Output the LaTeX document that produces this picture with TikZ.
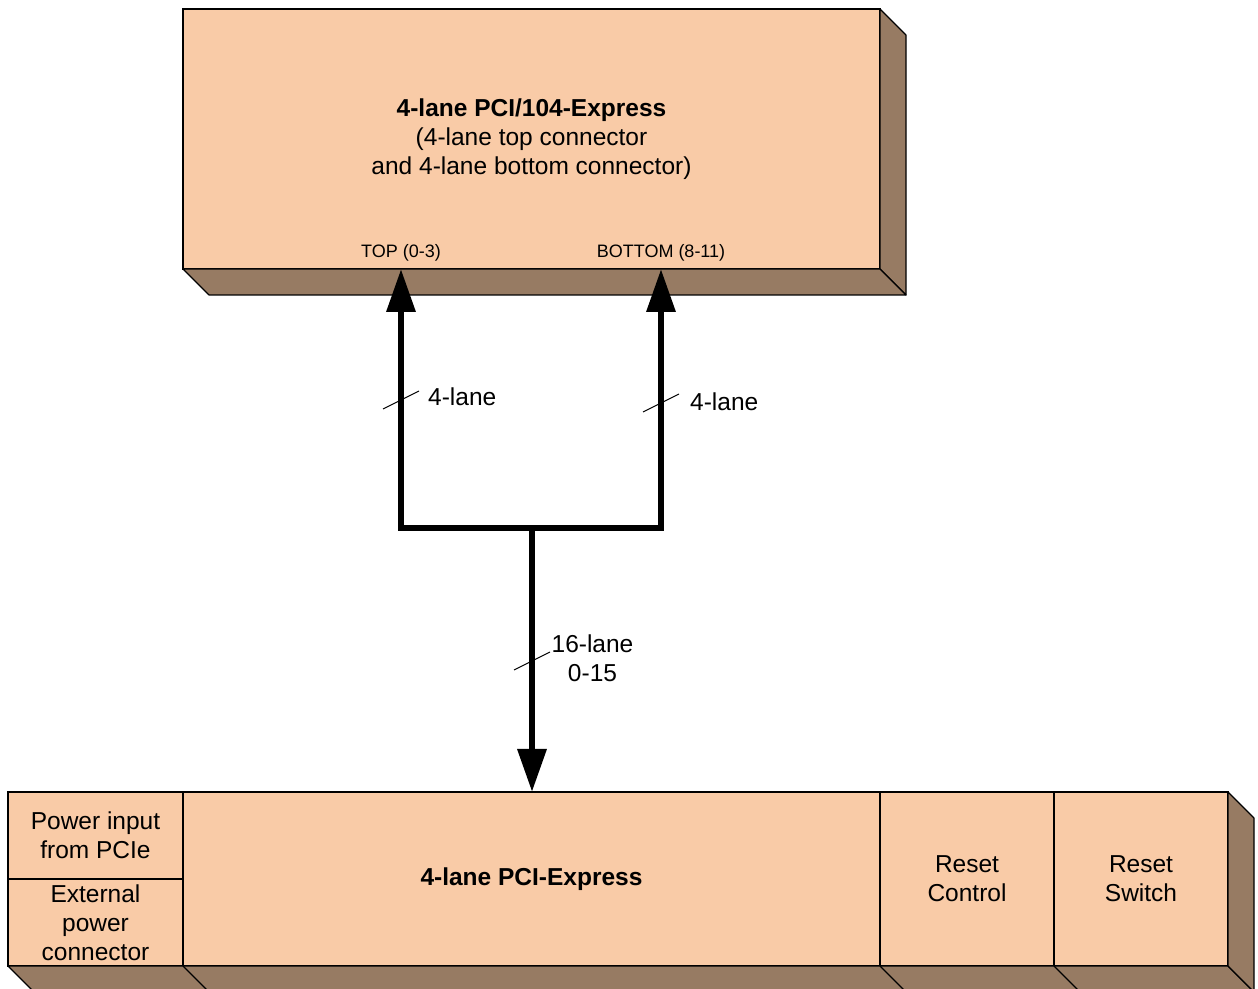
\documentclass[tikz,border=0pt]{standalone}
\usepackage{fontspec}
\setmainfont{Liberation Sans}
\usetikzlibrary{positioning,calc,arrows.meta}

\definecolor{boxfront}{HTML}{F9CBA7}
\definecolor{boxside}{HTML}{977B63}

\tikzstyle{block} = [align=center,draw=black,line width=1.1pt,fill=boxfront,rectangle,text centered,inner sep=0pt,outer sep=0pt,font=\fontsize{24.5}{29}\selectfont]
\tikzstyle{side} = [draw=black,line width=1.1pt,fill=boxside,line join=round]
\tikzstyle{edge} = [draw=black,line width=1.1pt]
\tikzstyle{bus} = [line width=6.5pt,-{Triangle[length=43pt,width=28pt]}]
\tikzstyle{tick} = [line width=1pt]
\tikzstyle{port} = [inner sep=0pt,font=\fontsize{18}{21}\selectfont]
\tikzstyle{lanes} = [inner sep=0pt,align=center,font=\fontsize{24.5}{29}\selectfont]

\begin{document}
\begin{tikzpicture}[x=1pt,y=1pt]
	\useasboundingbox (0,0) rectangle (1258,988);
	% PCI/104 board
	\node (pci104) [block,minimum width=697pt,minimum height=260pt] at (531.5,849) {\textbf{4-lane PCI/104-Express}\\(4-lane top connector\\and 4-lane bottom connector)};
	\draw [side] (pci104.north east) -- ++(26,-26) -- ++(0,-260) -- (pci104.south east) -- cycle;
	\draw [side] (pci104.south west) -- ++(26,-26) -- ($(pci104.south east)+(26,-26)$) -- (pci104.south east) -- cycle;
	\node (toplbl) [port,anchor=base] at (401,730) {TOP (0-3)};
	\node (botlbl) [port,anchor=base] at (661,730) {BOTTOM (8-11)};
	% base board
	\node (pcie) [block,minimum width=697pt,minimum height=174pt] at (531.5,109) {\textbf{4-lane PCI-Express}};
	\node (rstctl) [block,minimum width=174pt,minimum height=174pt,right=0pt of pcie] {Reset\\Control};
	\node (rstsw) [block,minimum width=174pt,minimum height=174pt,right=0pt of rstctl] {Reset\\Switch};
	\node (pwrin) [block,minimum width=175pt,minimum height=87pt,above left=0pt of pcie.west] {Power input\\from PCIe};
	\node (extpwr) [block,minimum width=175pt,minimum height=87pt,below left=0pt of pcie.west] {External\\power\\connector};
	\draw [side] (extpwr.south west) -- ++(26,-26) -- ($(rstsw.south east)+(26,-26)$) -- (rstsw.south east) -- cycle;
	\draw [edge] (pcie.south west) -- ++(26,-26);
	\draw [edge] (pcie.south east) -- ++(26,-26);
	\draw [edge] (rstctl.south east) -- ++(26,-26);
	\draw [side] (rstsw.north east) -- ++(26,-26) -- ++(0,-174) -- (rstsw.south east) -- cycle;
	% lanes
	\coordinate (split) at (532,460);
	\draw [bus] (split) -| (toplbl.base |- pci104.south);
	\draw [bus] (split) -| (botlbl.base |- pci104.south);
	\draw [bus] (split) -- (split |- pcie.north);
	\coordinate (lanetop) at (401,588);
	\coordinate (lanebot) at (661,585);
	\coordinate (lanemain) at (532,327);
	\draw [tick] (lanetop) +(-18,-9) -- +(18,9);
	\draw [tick] (lanebot) +(-18,-9) -- +(18,9);
	\draw [tick] (lanemain) +(-18,-9) -- +(18,9);
	\node (lanetoplbl) [lanes,anchor=base west] at (428,582) {4-lane};
	\node (lanebotlbl) [lanes,anchor=base west] at (690,577) {4-lane};
	\node (lanemainlbl) [lanes] at (592.5,330) {16-lane\\0-15};
\end{tikzpicture}
\end{document}
